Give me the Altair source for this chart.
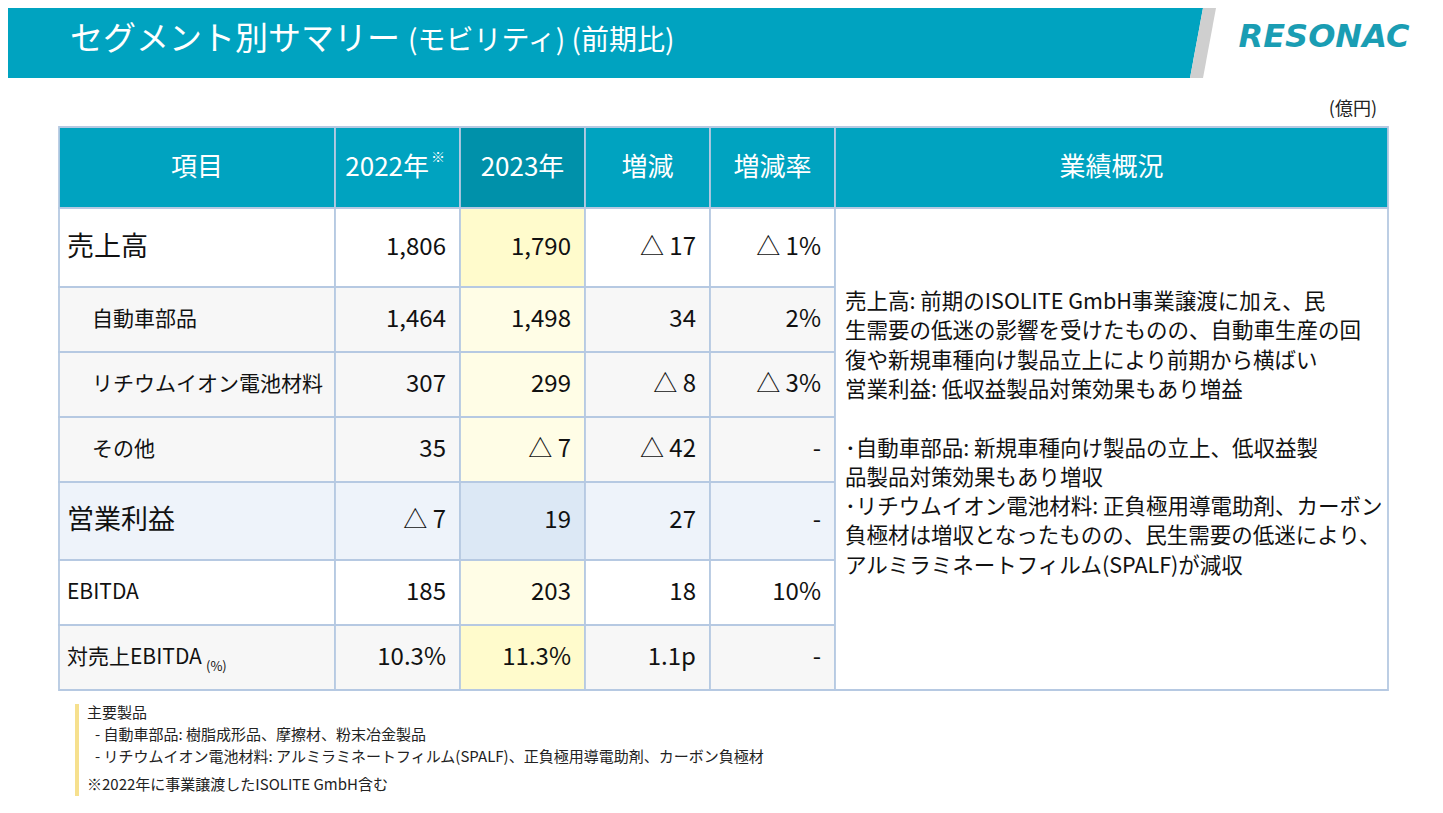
import altair as alt
import pandas as pd

# ---------------- data ----------------
title_main = "セグメント別サマリー"
title_sub = "(モビリティ) (前期比)"
unit_label = "(億円)"
logo_text = "RESONAC"
header_labels = ["項目", "2022年", "2023年", "増減", "増減率", "業績概況"]
header_note = "※"
items = ["売上高", "自動車部品", "リチウムイオン電池材料", "その他", "営業利益", "EBITDA", "対売上EBITDA"]
item_suffix = "(%)"
val_2022 = [1806, 1464, 307, 35, -7, 185, 10.3]
val_2023 = [1790, 1498, 299, -7, 19, 203, 11.3]
change = [-17, 34, -8, -42, 27, 18, 1.1]
change_rate = [-1, 2, -3, None, None, 10, None]
summary_lines = [
    "売上高: 前期のISOLITE GmbH事業譲渡に加え、民",
    "生需要の低迷の影響を受けたものの、自動車生産の回",
    "復や新規車種向け製品立上により前期から横ばい",
    "営業利益: 低収益製品対策効果もあり増益",
    "",
    "･自動車部品: 新規車種向け製品の立上、低収益製",
    "品製品対策効果もあり増収",
    "･リチウムイオン電池材料: 正負極用導電助剤、カーボン",
    "負極材は増収となったものの、民生需要の低迷により、",
    "アルミラミネートフィルム(SPALF)が減収",
]
footnotes = [
    "主要製品",
    "- 自動車部品: 樹脂成形品、摩擦材、粉末冶金製品",
    "- リチウムイオン電池材料: アルミラミネートフィルム(SPALF)、正負極用導電助剤、カーボン負極材",
    "※2022年に事業譲渡したISOLITE GmbH含む",
]

# ---------------- layout / style ----------------
FONT = "Noto Sans CJK JP"
TEAL = "#00a3c0"
TEAL_DARK = "#0091aa"
BORDER = "#b6c9e2"
col_edges = [59, 335, 460, 585, 710, 835, 1388]
row_edges = [127, 208, 287, 352, 417, 482, 560, 625, 690]
big_rows = {0, 4}
indent_rows = {1, 2, 3}
ratio_row = 6
row_bg = ["#ffffff", "#f7f7f7", "#f7f7f7", "#f7f7f7", "#eef3fa", "#ffffff", "#f7f7f7"]
col23_bg = ["#fffbcc", "#fffde6", "#fffde6", "#fffde6", "#dce8f5", "#fffde6", "#fffbcc"]


def fmt_num(v):
    return ("△ " if v < 0 else "") + f"{abs(v):,}"


def fmt_cell(v, row, kind):
    if v is None:
        return "-"
    if row == ratio_row:
        return f"{v:.1f}" + ("p" if kind == "chg" else "%")
    if kind == "rate":
        return ("△ " if v < 0 else "") + f"{abs(v)}%"
    return fmt_num(v)


X = dict(scale=alt.Scale(domain=[8, 1435], nice=False, zero=False), axis=None)
Y = dict(scale=alt.Scale(domain=[8, 805], nice=False, zero=False, reverse=True), axis=None)

# ---------------- rects ----------------
rects = []
for c in range(6):
    rects.append(dict(x=col_edges[c], x2=col_edges[c + 1], y=row_edges[0], y2=row_edges[1],
                      fill=TEAL_DARK if c == 2 else TEAL))
for r in range(len(items)):
    for c in range(5):
        fill = col23_bg[r] if c == 2 else row_bg[r]
        rects.append(dict(x=col_edges[c], x2=col_edges[c + 1], y=row_edges[r + 1], y2=row_edges[r + 2], fill=fill))
rects.append(dict(x=col_edges[5], x2=col_edges[6], y=row_edges[1], y2=row_edges[-1], fill="#ffffff"))
rect_df = pd.DataFrame(rects)

rect_layer = alt.Chart(rect_df).mark_rect(stroke=BORDER, strokeWidth=1.8).encode(
    x=alt.X("x:Q", **X), x2="x2:Q", y=alt.Y("y:Q", **Y), y2="y2:Q",
    color=alt.Color("fill:N", scale=None),
)

# title bar shapes
bar_df = pd.DataFrame([dict(y=8, xa=8, xb=1203), dict(y=78, xa=8, xb=1190)])
stripe_df = pd.DataFrame([dict(y=8, xa=1203, xb=1216), dict(y=78, xa=1190, xb=1203)])
bar_layer = alt.Chart(bar_df).mark_area(orient="horizontal", color=TEAL).encode(
    y=alt.Y("y:Q", **Y), x=alt.X("xa:Q", **X), x2="xb:Q")
stripe_layer = alt.Chart(stripe_df).mark_area(orient="horizontal", color="#cfcfcf").encode(
    y=alt.Y("y:Q", **Y), x=alt.X("xa:Q", **X), x2="xb:Q")

# footnote accent bar
accent_df = pd.DataFrame([dict(x=75, x2=79, y=704, y2=796)])
accent_layer = alt.Chart(accent_df).mark_rect(color="#f6e08e").encode(
    x=alt.X("x:Q", **X), x2="x2:Q", y=alt.Y("y:Q", **Y), y2="y2:Q")

# ---------------- texts ----------------
left, right, center = [], [], []
# title
left.append(dict(x=70, y=40, t=title_main, s=33, c="#ffffff"))
left.append(dict(x=408, y=42, t=title_sub, s=28, c="#ffffff"))
right.append(dict(x=1377, y=110, t=unit_label, s=18, c="#222222"))

# headers
hy = (row_edges[0] + row_edges[1]) / 2
for c, lab in enumerate(header_labels):
    cx = (col_edges[c] + col_edges[c + 1]) / 2
    if c == 1:
        right.append(dict(x=429, y=hy, t=lab, s=26, c="#ffffff"))
        left.append(dict(x=431, y=hy - 10, t=header_note, s=14, c="#ffffff"))
    else:
        center.append(dict(x=cx, y=hy, t=lab, s=26, c="#ffffff"))

# body
for r, lab in enumerate(items):
    cy = (row_edges[r + 1] + row_edges[r + 2]) / 2
    big = r in big_rows
    lx = 92 if r in indent_rows else 67
    left.append(dict(x=lx, y=cy, t=lab, s=27 if big else 21, c="#111111"))
    if r == ratio_row:
        left.append(dict(x=206, y=cy + 9, t=item_suffix, s=13, c="#111111"))
    vals = [fmt_cell(val_2022[r], r, "val"), fmt_cell(val_2023[r], r, "val"),
            fmt_cell(change[r], r, "chg"), fmt_cell(change_rate[r], r, "rate")]
    for k, v in enumerate(vals):
        right.append(dict(x=col_edges[k + 2] - 14, y=cy, t=v, s=24, c="#111111"))

# summary panel
for i, line in enumerate(summary_lines):
    if line:
        left.append(dict(x=845, y=303 + i * 29.3, t=line, s=21.5, c="#111111"))

# footnotes
foot_y = [713, 735, 757, 785]
foot_x = [87, 95, 95, 87]
for i, line in enumerate(footnotes):
    left.append(dict(x=foot_x[i], y=foot_y[i], t=line, s=15, c="#222222"))


def text_layer(rows, align):
    df = pd.DataFrame(rows)
    return alt.Chart(df).mark_text(align=align, baseline="middle", font=FONT).encode(
        x=alt.X("x:Q", **X), y=alt.Y("y:Q", **Y), text="t:N",
        size=alt.Size("s:Q", scale=None), color=alt.Color("c:N", scale=None))


logo_df = pd.DataFrame([dict(x=1324, y=37, t=logo_text)])
logo_layer = alt.Chart(logo_df).mark_text(
    align="center", baseline="middle", font="DejaVu Sans", fontWeight="bold",
    fontStyle="italic", fontSize=32, color="#1a9db3").encode(
    x=alt.X("x:Q", **X), y=alt.Y("y:Q", **Y), text="t:N")

chart = alt.layer(
    bar_layer, stripe_layer, rect_layer, accent_layer,
    text_layer(left, "left"), text_layer(right, "right"), text_layer(center, "center"),
    logo_layer,
).properties(width=1427, height=797, padding=0, autosize="none", background="white"
).configure_view(stroke=None)

chart.save("out.html", embed_options={"renderer": "svg", "actions": False})
